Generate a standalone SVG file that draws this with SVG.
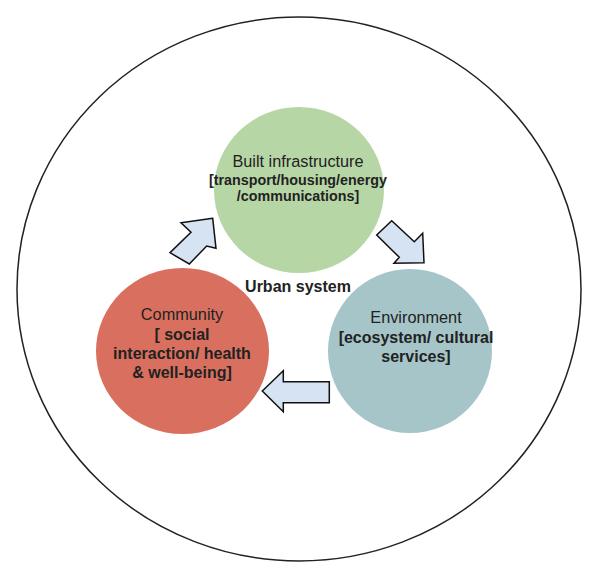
<svg xmlns="http://www.w3.org/2000/svg" width="600" height="575" viewBox="0 0 600 575">
<style>
  text { font-family: "Liberation Sans", Arial, sans-serif; fill: #222; text-anchor: middle; }
  .t { font-size: 16.3px; }
  .b { font-size: 16px; font-weight: bold; }
  .s { font-size: 14.3px; font-weight: bold; }
  .arrow { fill: #d5e3f2; stroke: #111; stroke-width: 1.5; stroke-linejoin: miter; }
</style>
<rect width="600" height="575" fill="#fff"/>
<ellipse id="urban-boundary" cx="299" cy="289" rx="282" ry="272" fill="none" stroke="#222" stroke-width="1.5"/>
<g id="built-infrastructure">
  <ellipse cx="299" cy="190" rx="85" ry="83" fill="#b7d6a6"/>
  <text class="t" x="298" y="167">Built infrastructure</text>
  <text class="s" x="298" y="185">[transport/housing/energy</text>
  <text class="s" x="298" y="201">/communications]</text>
</g>
<g id="community">
  <ellipse cx="182.5" cy="351" rx="86.5" ry="83" fill="#d9705f"/>
  <text class="t" x="182" y="320">Community</text>
  <text class="b" x="182" y="340">[ social</text>
  <text class="b" x="182" y="359">interaction/ health</text>
  <text class="b" x="182" y="378">&amp; well-being]</text>
</g>
<g id="environment">
  <ellipse cx="410" cy="351" rx="82" ry="82" fill="#a6c5c9"/>
  <text class="t" x="416" y="323">Environment</text>
  <text class="b" x="416" y="343">[ecosystem/ cultural</text>
  <text class="b" x="416" y="362">services]</text>
</g>
<g id="label-urban-system">
  <text class="b" x="298" y="292">Urban system</text>
</g>
<g id="connectors">
  <polygon class="arrow" points="212.7,218.3 181,222.7 191,232.3 170,252.7 189.3,264 206.7,246 216,248.3"/>
  <polygon class="arrow" points="424,262.7 394,263.3 399.3,257.3 376.7,235 391.7,220.7 414.3,241.7 422.7,233.3"/>
  <polygon class="arrow" points="262.3,391 283.3,370.7 283.3,381.7 329.3,381.7 329.3,402.7 283.3,402.7 283.3,411.7"/>
</g>
</svg>
